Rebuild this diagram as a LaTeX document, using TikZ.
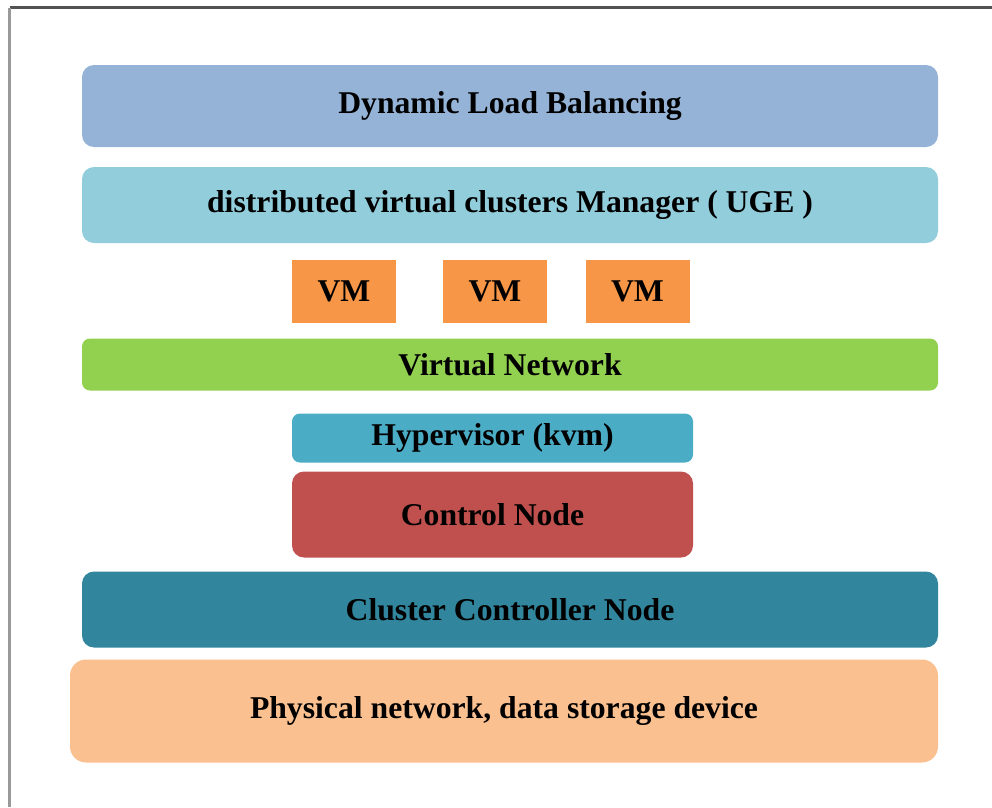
\documentclass[tikz,border=0pt]{standalone}
\usepackage{fontspec}
\setmainfont{Liberation Serif}
\definecolor{cBalance}{HTML}{95B3D7}
\definecolor{cManager}{HTML}{92CDDC}
\definecolor{cVM}{HTML}{F79646}
\definecolor{cVNet}{HTML}{92D050}
\definecolor{cHyper}{HTML}{4BACC6}
\definecolor{cControl}{HTML}{C0504D}
\definecolor{cCluster}{HTML}{31859C}
\definecolor{cPhys}{HTML}{FAC090}
\begin{document}
\begin{tikzpicture}[x=1pt,y=-1pt,
  layer/.style={fill=#1, draw=none, inner sep=0pt, text=black,
    font=\bfseries\fontsize{31.7}{36}\selectfont},
  roundlayer/.style={layer=#1, rounded corners=12pt},
  vmbox/.style={layer=cVM, minimum width=104pt, minimum height=63pt}]
  \useasboundingbox (0,0) rectangle (992,807);

  % page frame (top and left edges)
  \draw[line width=2.2pt, color=black!68] (9.5,7.5) -- (992,7.5);
  \draw[line width=2.2pt, color=black!40] (9.5,7.5) -- (9.5,807);

  % stack of layers, top to bottom
  \node[roundlayer=cBalance, minimum width=856pt, minimum height=82pt] (dlb) at (510,106) {Dynamic Load Balancing};
  \node[roundlayer=cManager, minimum width=856pt, minimum height=76pt] (mgr) at (510,205) {distributed virtual clusters Manager ( UGE )};

  \node[vmbox] (vm1) at (344,291) {VM};
  \node[vmbox] (vm2) at (495,291) {VM};
  \node[vmbox] (vm3) at (637.5,291) {VM};

  \node[layer=cVNet, rounded corners=8pt, minimum width=856pt, minimum height=52pt] (vnet) at (510,364.5) {Virtual Network};
  \node[layer=cHyper, rounded corners=8pt, minimum width=401pt, minimum height=49pt] (hyp) at (492.5,438) {Hypervisor (kvm)};
  \node[roundlayer=cControl, minimum width=401pt, minimum height=86pt] (ctrl) at (492.5,514.5) {Control Node};
  \node[roundlayer=cCluster, minimum width=856pt, minimum height=76pt] (ccn) at (510,609.5) {Cluster Controller Node};
  \node[layer=cPhys, rounded corners=16pt, minimum width=868pt, minimum height=103pt] (phys) at (504,711) {Physical network, data storage device};
\end{tikzpicture}
\end{document}
